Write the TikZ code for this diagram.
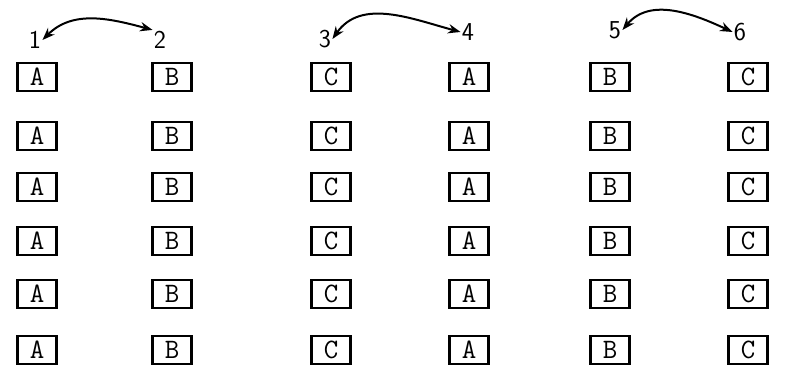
\documentclass[tikz,border=0pt]{standalone}
\usepackage{tikz}
\usetikzlibrary{arrows.meta,positioning}

\begin{document}
\begin{tikzpicture}[x=0.03cm,y=0.03cm,>=Stealth,
  bx/.style={draw,line width=1.9pt,minimum width=1.17cm,minimum height=0.84cm,inner sep=0pt,font=\fontsize{24}{26}\selectfont\ttfamily},
  lbl/.style={inner sep=1pt,font=\fontsize{22}{24}\selectfont\sffamily},
  swp/.style={<->,line width=1.7pt}]
  \useasboundingbox (0,0) rectangle (791,376);
  % column numbers
  \node[lbl] (n1) at (35,336) {1};
  \node[lbl] (n2) at (160,336) {2};
  \node[lbl] (n3) at (325,337) {3};
  \node[lbl] (n4) at (468,344) {4};
  \node[lbl] (n5) at (615,346) {5};
  \node[lbl] (n6) at (740,344) {6};
  % swaps
  \draw[swp] (n1.east) to[out=45,in=165] (n2.north west);
  \draw[swp] (n3.east) to[out=55,in=165] (n4.west);
  \draw[swp] (n5.east) to[out=50,in=155] (n6.west);
  % boxes
  \foreach \c/\x/\t in {1/37/A,2/172/B,3/331/C,4/469/A,5/610/B,6/748/C}
    \foreach \r/\y in {1/299,2/240,3/189,4/135,5/82,6/26}
      \node[bx] (b\c-\r) at (\x,\y) {\t};
\end{tikzpicture}
\end{document}
